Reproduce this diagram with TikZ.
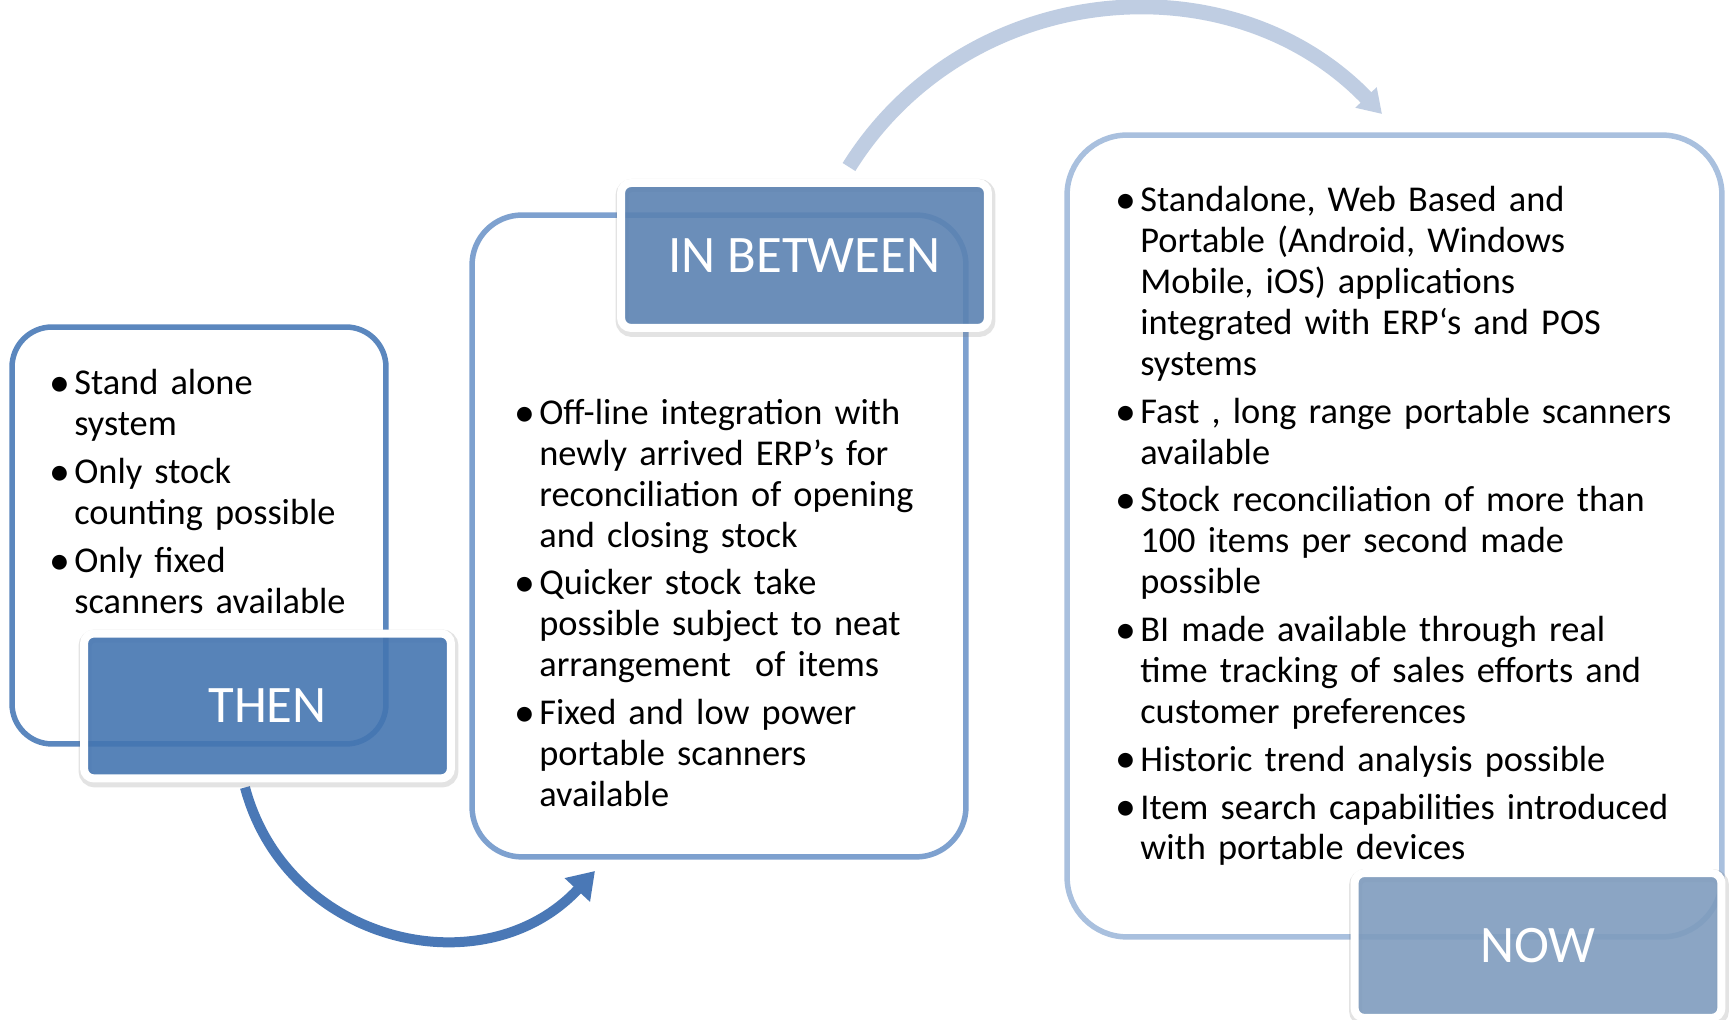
\documentclass[tikz,border=0pt]{standalone}
\usepackage{fontspec}
\usepackage{graphicx}
\setmainfont{Carlito}
\usetikzlibrary{arrows.meta,shadows,backgrounds}

\definecolor{thenblue}{HTML}{4476B3}
\definecolor{midblue}{HTML}{5B83B4}
\definecolor{nowblue}{HTML}{7F9DC0}
\definecolor{thenline}{HTML}{5B87BE}
\definecolor{midline}{HTML}{7EA1CF}
\definecolor{nowline}{HTML}{A9C0DE}
\definecolor{arrowdark}{HTML}{4A78B6}
\definecolor{arrowlight}{HTML}{BFCDE2}

\newlength\bulletgap
\setlength\bulletgap{0.5cm}
\newcommand\listfont{\fontsize{20.7}{23.25}\selectfont}
\newcommand\bigbullet{\raisebox{-0.05em}{\scalebox{1.15}{\textbullet}}}
\newcommand\bitem[1]{\hangindent=\bulletgap\hangafter=1\makebox[\bulletgap][l]{\bigbullet}#1\par\parskip=4pt\relax}

\begin{document}
\begin{tikzpicture}[x=0.02cm, y=0.02cm]
		\useasboundingbox (0,0) rectangle (1729,1020);
		% the three content boxes
		\begin{scope}[every node/.style={draw,line width=0.11cm,inner sep=0pt,outer sep=0pt}]
			\node[draw=thenline,rounded corners=0.8cm,minimum width=7.48cm,minimum height=8.34cm] (thenbox) at (199,484.5) {};
			\node[draw=midline,rounded corners=1cm,minimum width=9.88cm,minimum height=12.84cm] (midbox) at (719,484) {};
			\node[draw=nowline,rounded corners=1.2cm,minimum width=13.1cm,minimum height=16.04cm] (nowbox) at (1394.5,484) {};
		\end{scope}
		\begin{scope}[every node/.style={anchor=base west,align=left,text width=11.5cm,inner sep=0pt,font=\listfont}]
			\node (thentxt) at (49,625) {\bitem{Stand alone\newline system}
				\bitem{Only stock\newline counting possible}
				\bitem{Only fixed\newline scanners available}};
			\node (midtxt) at (514,595.5) {\bitem{Off-line integration with\newline newly arrived ERP’s for\newline reconciliation of opening\newline and closing stock}
				\bitem{Quicker stock take\newline possible subject to neat\newline arrangement~ of items}
				\bitem{Fixed and low power\newline portable scanners\newline available}};
			\node (nowtxt) at (1115,808) {\bitem{Standalone, Web Based and\newline Portable (Android, Windows\newline Mobile, iOS) applications\newline integrated with ERP‘s and POS\newline systems}
				\bitem{Fast , long range portable scanners\newline available}
				\bitem{Stock reconciliation of more than\newline 100 items per second made\newline possible}
				\bitem{BI made available through real\newline time tracking of sales efforts and\newline customer preferences}
				\bitem{Historic trend analysis possible}
				\bitem{Item search capabilities introduced\newline with portable devices}};
		\end{scope}
		% stage labels
		\begin{scope}[every node/.style={draw=white,line width=0.16cm,rounded corners=0.2cm,
				fill opacity=0.88,text opacity=1,text=white,inner sep=0pt,
				minimum width=7.34cm,minimum height=2.9cm,font=\fontsize{30}{36}\selectfont,
				general shadow={shadow xshift=0.02cm,shadow yshift=-0.05cm,opacity=0.18,
					fill=black!60,draw=black!60,line width=0.26cm}}]
			\node[fill=thenblue] (then) at (267.5,314) {THEN};
			\node[fill=midblue] (mid) at (804.5,764.5) {IN BETWEEN};
			\node[fill=nowblue] (now) at (1538,74.5) {NOW};
		\end{scope}
		\coordinate (a1end) at (595,149);
		\coordinate (a2end) at (1382,906);
		\begin{pgfonlayer}{background}
			\fill[white] (0,0) rectangle (1729,1020);
			\draw[arrowdark,line width=0.2cm,-{Triangle[width=0.66cm,length=0.52cm]}]
				([xshift=-0.45cm,yshift=-0.1cm]then.south) to[out=-75,in=227,looseness=1.15] (a1end);
			\draw[arrowlight,line width=0.3cm,-{Triangle[width=0.56cm,length=0.46cm]}]
				([xshift=0.89cm,yshift=0.24cm]mid.north) to[out=58,in=134,looseness=1.05] (a2end);
		\end{pgfonlayer}
	\end{tikzpicture}
\end{document}
